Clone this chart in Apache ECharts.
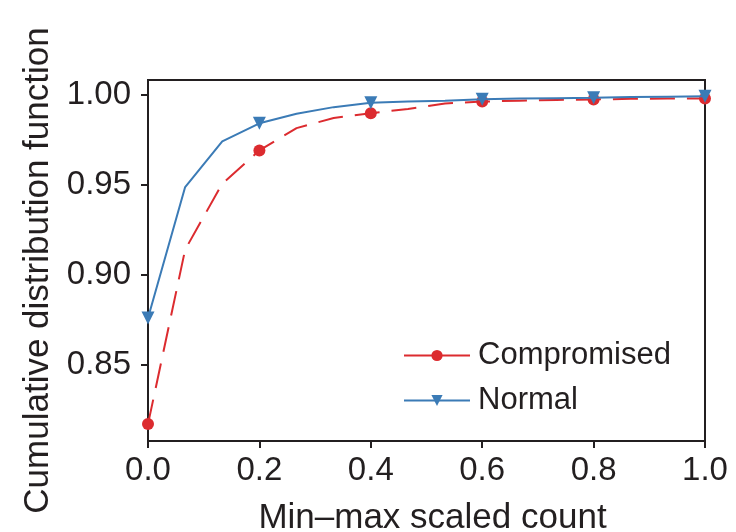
<!DOCTYPE html>
<html>
<head>
<meta charset="utf-8">
<script src="https://cdn.jsdelivr.net/npm/echarts@6/dist/echarts.min.js"></script>
<style>html,body{margin:0;padding:0;background:#fff}#c{width:736px;height:532px}</style>
</head>
<body>
<div id="c"></div>
<script>
const xValues = [0, 0.0667, 0.1333, 0.2, 0.2667, 0.3333, 0.4, 0.4667, 0.5333, 0.6, 0.6667, 0.7333, 0.8, 0.8667, 0.9333, 1.0];
const compromised = [0.8168, 0.9139, 0.9506, 0.9691, 0.9815, 0.9872, 0.9898, 0.9922, 0.9952, 0.9963, 0.9968, 0.9972, 0.9975, 0.9978, 0.9980, 0.9980];
const normal = [0.8759, 0.9487, 0.9741, 0.9842, 0.9895, 0.9932, 0.9956, 0.9963, 0.9968, 0.9976, 0.9980, 0.9982, 0.9984, 0.9988, 0.9990, 0.9992];
const markerIdx = [0, 3, 6, 9, 12, 15];
const xTicks = [0, 0.2, 0.4, 0.6, 0.8, 1.0];
const yTicks = [0.85, 0.90, 0.95, 1.00];
const seriesNames = ['Compromised', 'Normal'];

const RED = '#dc2b2f', BLUE = '#3b7bb6', INK = '#231f20';
const FONT = 'Liberation Sans';
function build(vals, sym){
  return vals.map((v,i)=>({value:[xValues[i], v], symbol: markerIdx.includes(i) ? sym : 'none'}));
}
const chart = echarts.init(document.getElementById('c'), null, {renderer:'canvas'});
chart.setOption({
  animation:false,
  backgroundColor:'#fff',
  textStyle:{fontFamily:FONT},
  grid:{left:148, right:31, top:80, bottom:91, outerBoundsMode:'none', containLabel:false,
        show:true, borderColor:INK, borderWidth:2, backgroundColor:'transparent'},
  legend:{
    orient:'vertical', left:403, top:340, padding:0, itemWidth:66, itemHeight:14, itemGap:14,
    data: seriesNames,
    lineStyle:{type:'solid', width:2},
    textStyle:{fontFamily:FONT, fontSize:31, color:INK, padding:[0,0,0,3]}
  },
  xAxis:{
    type:'value', min:0, max:1,
    name:'Min\u2013max scaled count', nameLocation:'middle', nameGap:60,
    nameTextStyle:{fontFamily:FONT, fontSize:35, color:INK, padding:[0,0,0,12]},
    axisLine:{show:true, lineStyle:{color:INK, width:2}},
    axisTick:{show:true, inside:false, length:7, lineStyle:{color:INK, width:2}, customValues:xTicks},
    axisLabel:{color:INK, fontSize:33, fontFamily:FONT, margin:13, customValues:xTicks, formatter:v=>v.toFixed(1)},
    splitLine:{show:false}
  },
  yAxis:{
    type:'value', min:0.8074, max:1.0083,
    name:'Cumulative distribution function', nameLocation:'middle', nameGap:92,
    nameTextStyle:{fontFamily:FONT, fontSize:35, color:INK, padding:[0,20,0,0]},
    axisLine:{show:true, lineStyle:{color:INK, width:2}},
    axisTick:{show:true, inside:false, length:7, lineStyle:{color:INK, width:2}, customValues:yTicks},
    axisLabel:{color:INK, fontSize:33, fontFamily:FONT, margin:17, customValues:yTicks, formatter:v=>v.toFixed(2)},
    splitLine:{show:false}
  },
  series:[
    {name:seriesNames[0], type:'line', symbol:'circle', data:build(compromised,'circle'), showAllSymbol:true,
     symbolSize:12, color:RED, itemStyle:{color:RED},
     lineStyle:{color:RED, width:2, type:[25,12]}, z:2},
    {name:seriesNames[1], type:'line', symbol:'triangle', data:build(normal,'triangle'), showAllSymbol:true,
     symbolSize:13, symbolRotate:180, color:BLUE, itemStyle:{color:BLUE},
     lineStyle:{color:BLUE, width:2, type:'solid'}, z:3}
  ]
});
</script>
</body>
</html>
